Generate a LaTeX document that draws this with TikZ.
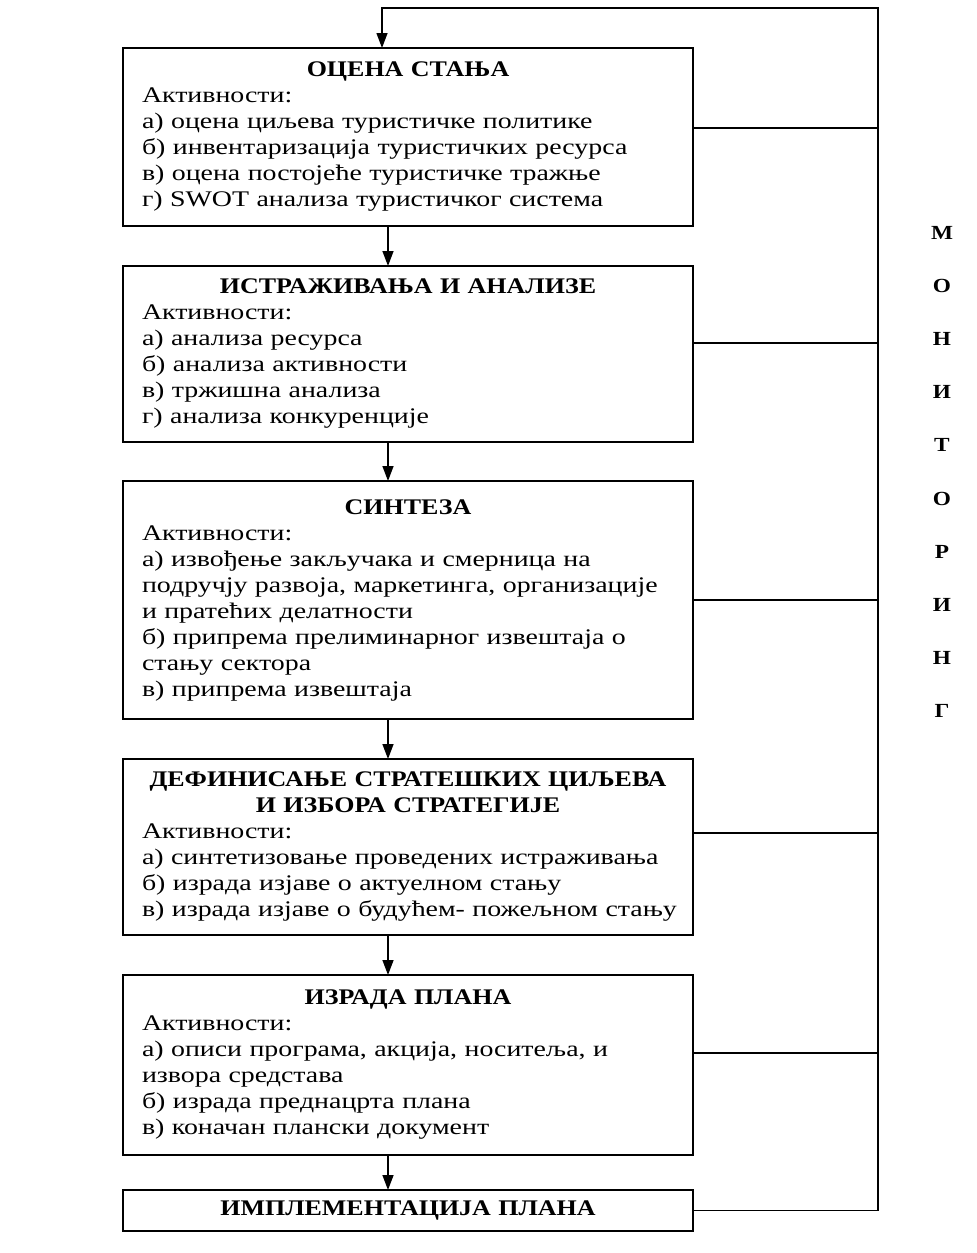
\documentclass[tikz,border=0pt]{standalone}
\usepackage{fontspec}
\setmainfont[FakeStretch=1.25, BoldFeatures={FakeStretch=1.165}]{Liberation Serif}
\usetikzlibrary{positioning,arrows.meta}

\tikzset{
  stage/.style={draw, line width=1.6pt, outer sep=0pt, minimum width=570pt, text width=544pt,
    inner xsep=13pt, inner ysep=6pt, align=left, font=\fontsize{22.3}{26}\selectfont},
  link/.style={line width=1.4pt},
  flow/.style={link, -{Triangle[length=15pt,width=11pt]}},
  monitor/.style={align=center, font=\fontsize{20}{53.2}\selectfont\bfseries}
}
\newcommand{\stagetitle}[1]{{\centering\bfseries #1\par}\leftskip=6pt\relax}

\begin{document}
\begin{tikzpicture}[x=1pt,y=1pt]
    \useasboundingbox (0,0) rectangle (977,-1253);
    % stages
    \node[stage, minimum height=178pt, anchor=north] (b1) at (408,-48) {
        \stagetitle{ОЦЕНА СТАЊА}
        Активности:\\
        а) оцена циљева туристичке политике\\
        б) инвентаризација туристичких ресурса\\
        в) оцена постојеће туристичке тражње\\
        г) SWOT анализа туристичког система\par};
    \node[stage, minimum height=176pt, below=40pt of b1] (b2) {
        \stagetitle{ИСТРАЖИВАЊА И АНАЛИЗЕ}
        Активности:\\
        а) анализа ресурса\\
        б) анализа активности\\
        в) тржишна анализа\\
        г) анализа конкуренције\par};
    \node[stage, minimum height=238pt, below=39pt of b2] (b3) {
        \stagetitle{СИНТЕЗА}
        Активности:\\
        а) извођење закључака и смерница на\\
        подручју развоја, маркетинга, организације\\
        и пратећих делатности\\
        б) припрема прелиминарног извештаја о\\
        стању сектора\\
        в) припрема извештаја\par};
    \node[stage, minimum height=176pt, below=40pt of b3] (b4) {
        \stagetitle{ДЕФИНИСАЊЕ СТРАТЕШКИХ ЦИЉЕВА\\И ИЗБОРА СТРАТЕГИЈЕ}
        Активности:\\
        а) синтетизовање проведених истраживања\\
        б) израда изјаве о актуелном стању\\
        в) израда изјаве о будућем- пожељном стању\par};
    \node[stage, minimum height=180pt, below=40pt of b4] (b5) {
        \stagetitle{ИЗРАДА ПЛАНА}
        Активности:\\
        а) описи програма, акција, носитеља, и\\
        извора средстава\\
        б) израда преднацрта плана\\
        в) коначан плански документ\par};
    \node[stage, minimum height=41pt, inner ysep=2pt, below=35pt of b5] (b6) {
        \stagetitle{ИМПЛЕМЕНТАЦИЈА ПЛАНА}};

    % flow between stages
    \foreach \a/\b in {b1/b2,b2/b3,b3/b4,b4/b5,b5/b6}
        \draw[flow] ([xshift=-20pt]\a.south) -- ([xshift=-20pt]\b.north);

    % monitoring loop
    \coordinate (railtop) at (878,-8);
    \coordinate (entry) at ([xshift=-26pt]b1.north);
    \foreach \b/\d in {b1/9,b2/11,b3/0,b4/14,b5/12}
        \draw[link] ([yshift=\d pt]\b.east) -- ([yshift=\d pt]\b.east -| railtop);
    \draw[flow] (b6.east) -- (b6.east -| railtop) -- (railtop) -- (railtop -| entry) -- (entry);

    \node[monitor] (mon) at (942,-472) {М\\О\\Н\\И\\Т\\О\\Р\\И\\Н\\Г};
\end{tikzpicture}
\end{document}
